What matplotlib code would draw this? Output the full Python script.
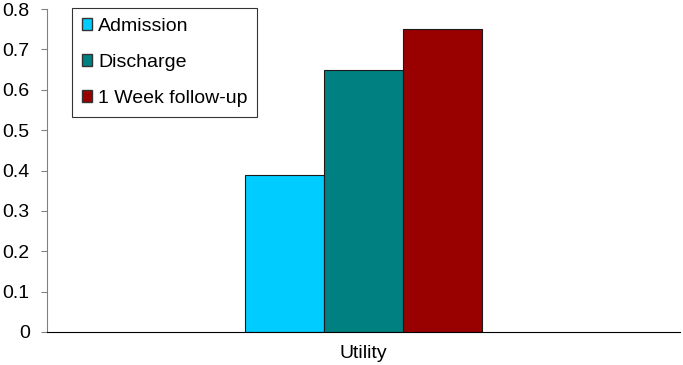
import matplotlib
matplotlib.use("Agg")
import matplotlib.pyplot as plt
from matplotlib.patches import Patch

categories = ["Utility"]
series = ["Admission", "Discharge", "1 Week follow-up"]
values = [[0.39], [0.65], [0.75]]
colors = ["#00CCFF", "#008080", "#990000"]

plt.rcParams['font.family'] = ['Liberation Sans', 'DejaVu Sans']

fig = plt.figure(figsize=(6.83, 3.65), dpi=100)
ax = fig.add_axes([47/683, 1-332/365, 633/683, 323/365])

w = 0.125
for i, (s, v, c) in enumerate(zip(series, values, colors)):
    xs = [k + (i - 1) * w for k in range(len(categories))]
    ax.bar(xs, v, width=w, color=c, edgecolor="#1a1a1a", linewidth=0.8, label=s, zorder=2)

ax.set_xlim(-0.5, len(categories) - 0.5)
ax.set_ylim(0, 0.8)
ax.set_yticks([0, 0.1, 0.2, 0.3, 0.4, 0.5, 0.6, 0.7, 0.8])
ax.set_yticklabels(["0", "0.1", "0.2", "0.3", "0.4", "0.5", "0.6", "0.7", "0.8"])
ax.set_xticks(range(len(categories)))
ax.set_xticklabels(categories)
ax.tick_params(axis='x', length=0, labelsize=14, pad=9)
ax.tick_params(axis='y', direction='out', length=4.5, color='#808080', labelsize=14, pad=8)
for s in ['top', 'right']:
    ax.spines[s].set_visible(False)
ax.spines['left'].set_color('#808080')
ax.spines['bottom'].set_color('black')

handles = [Patch(facecolor=c, edgecolor='#333333', label=s) for s, c in zip(series, colors)]
leg = ax.legend(handles=handles, loc='upper left', bbox_to_anchor=(25/633, 1.003),
                fontsize=14, frameon=True, fancybox=False, edgecolor='black',
                handlelength=0.55, handleheight=0.55, handletextpad=0.3,
                labelspacing=0.98, borderpad=0.5, borderaxespad=0)
leg.get_frame().set_linewidth(0.8)

fig.savefig("out.png", dpi=100)
